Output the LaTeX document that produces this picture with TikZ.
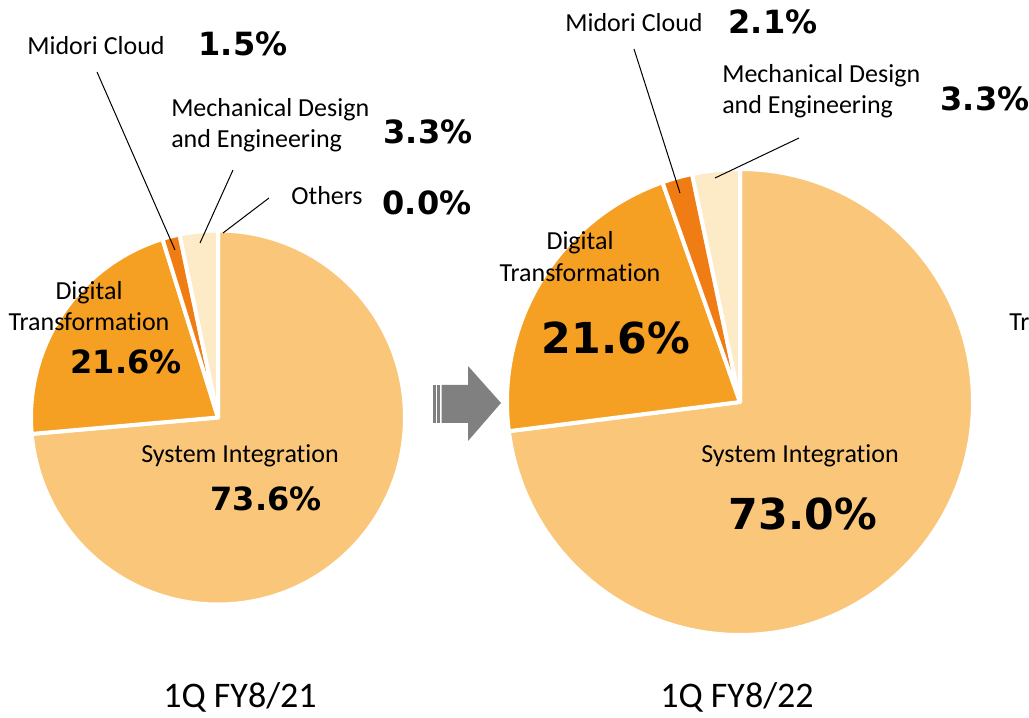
\documentclass[tikz,border=0pt]{standalone}
\usepackage{fontspec}
\usepackage{xcolor}
\usepackage{tikz}
\setmainfont{Carlito}[Ligatures={NoCommon}]
\newfontfamily\pctfont{DejaVu Sans}
\definecolor{sysint}{RGB}{250, 199, 122}
\definecolor{digital}{RGB}{245, 160, 35}
\definecolor{midori}{RGB}{240, 125, 20}
\definecolor{mech}{RGB}{253, 235, 200}
\definecolor{arrowgray}{RGB}{128, 128, 128}

\tikzset{
    slice/.style={draw=white, line width=3pt, line join=round},
    lbl/.style={inner sep=0pt, font=\fontsize{19.5}{23.4}\selectfont},
    pct/.style={inner sep=0pt, font=\pctfont\bfseries\fontsize{24}{28}\selectfont},
    bigpct/.style={inner sep=0pt, font=\pctfont\bfseries\fontsize{32}{38}\selectfont},
    period/.style={inner sep=0pt, font=\fontsize{27}{32}\selectfont},
    leader/.style={black, line width=0.75pt}
}

\begin{document}
\begin{tikzpicture}[x=0.75pt, y=0.75pt]
\useasboundingbox (0,0) rectangle (1029,718);
\clip (0,0) rectangle (1029,718);

% Left pie
\coordinate (cL) at (218,300.5);
\foreach \a/\b/\col in {90/-174.96/sysint, -174.96/-252.72/digital, -252.72/-258.12/midori, -258.12/-270/mech} {
    \filldraw[slice, fill=\col] (cL) -- ++(\a:187) arc[start angle=\a, end angle=\b, radius=187] -- cycle;
}

% Right pie
\coordinate (cR) at (740,316);
\foreach \a/\b/\col in {90/-172.8/sysint, -172.8/-250.56/digital, -250.56/-258.12/midori, -258.12/-270/mech} {
    \filldraw[slice, fill=\col] (cR) -- ++(\a:233) arc[start angle=\a, end angle=\b, radius=233] -- cycle;
}

% Arrow between the pies
\fill[arrowgray] (441.7,295) -- (441.7,333) -- (468,333) -- (468,352) -- (501,315)
    -- (468,277) -- (468,295) -- cycle;
\fill[arrowgray] (433.3,295) rectangle (435.7,333);
\fill[arrowgray] (437.3,295) rectangle (439.5,333);

% Left labels
\node[lbl] (midoriL) at (96,672) {Midori Cloud};
\node[pct] (midoriLp) at (243,674) {1.5\%};
\node[lbl, anchor=west, align=left] (mechL) at (171,592.5) {Mechanical Design\\and Engineering};
\node[pct] (mechLp) at (428,586) {3.3\%};
\node[lbl] (othersL) at (327,522) {Others};
\node[pct] (othersLp) at (427,515) {0.0\%};
\node[lbl, align=center] (digitalL) at (89,412) {Digital\\Transformation};
\node[pct] (digitalLp) at (126,356) {21.6\%};
\node[lbl] (sysintL) at (240,262) {System Integration};
\node[pct] (sysintLp) at (266,219) {73.6\%};
\node[period] (periodL) at (240,21) {1Q FY8/21};

% Left leaders
\coordinate (mdA) at (97,646);
\coordinate (mdB) at (175,468);
\coordinate (meA) at (233,548);
\coordinate (meB) at (200,475);
\coordinate (otA) at (269,520);
\coordinate (otB) at (223,485);
\draw[leader] (mdA) -- (mdB);
\draw[leader] (meA) -- (meB);
\draw[leader] (otA) -- (otB);

% Right labels
\node[lbl] (midoriR) at (634,695) {Midori Cloud};
\node[pct] (midoriRp) at (773,696) {2.1\%};
\node[lbl, anchor=west, align=left] (mechR) at (722,626.5) {Mechanical Design\\and Engineering};
\node[pct] (mechRp) at (985,619) {3.3\%};
\node[lbl, align=center] (digitalR) at (580,461.5) {Digital\\Transformation};
\node[bigpct] (digitalRp) at (616,380) {21.6\%};
\node[lbl] (sysintR) at (800,262) {System Integration};
\node[bigpct] (sysintRp) at (803,204) {73.0\%};
\node[period] (periodR) at (737,21) {1Q FY8/22};

% Right leaders
\coordinate (mdC) at (634,669);
\coordinate (mdD) at (680,525);
\coordinate (meC) at (799,580);
\coordinate (meD) at (715,540);
\draw[leader] (mdC) -- (mdD);
\draw[leader] (meC) -- (meD);

% Cut-off label of the next chart
\node[lbl, anchor=west] (nextDigital) at (1009,396) {Transformation};
\end{tikzpicture}
\end{document}
